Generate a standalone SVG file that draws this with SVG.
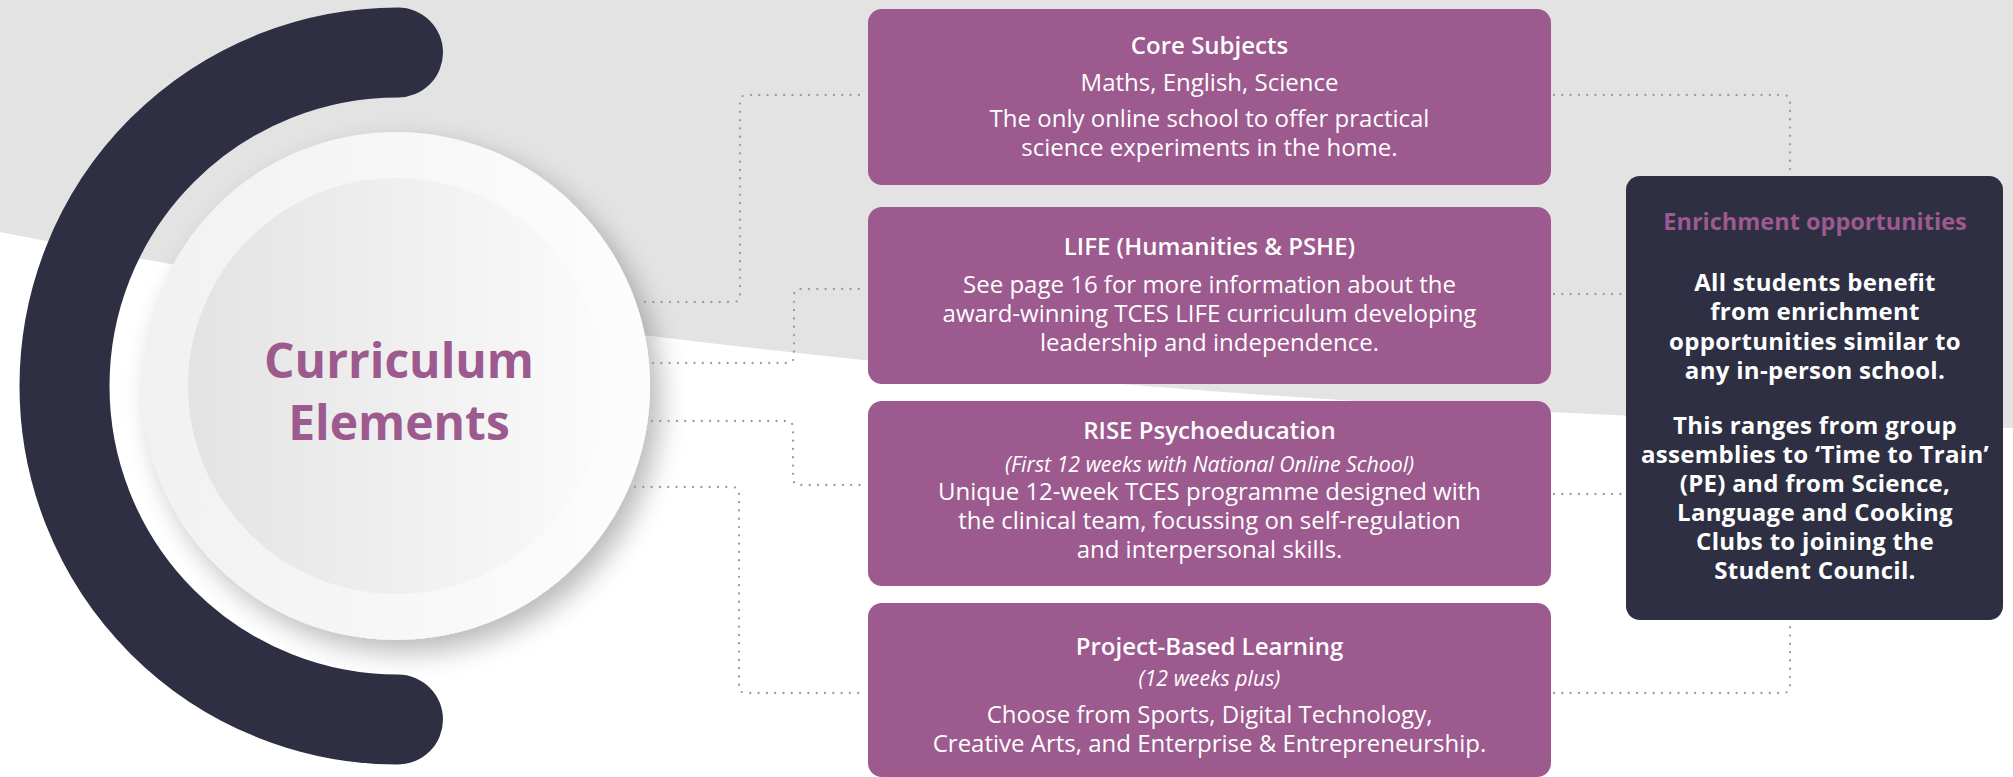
<svg xmlns="http://www.w3.org/2000/svg" width="2013" height="777" viewBox="0 0 2013 777">
  <defs>
    <linearGradient id="outerGrad" x1="0" y1="0" x2="1" y2="0">
      <stop offset="0" stop-color="#f1f1f1"/>
      <stop offset="1" stop-color="#fdfdfd"/>
    </linearGradient>
    <linearGradient id="innerGrad" x1="0" y1="0" x2="1" y2="0">
      <stop offset="0" stop-color="#e3e3e3"/>
      <stop offset="1" stop-color="#fbfbfb"/>
    </linearGradient>
    <filter id="shadow" x="-30%" y="-30%" width="160%" height="160%">
      <feGaussianBlur in="SourceAlpha" stdDeviation="14"/>
      <feOffset dx="10" dy="12" result="b"/>
      <feComponentTransfer><feFuncA type="linear" slope="0.28"/></feComponentTransfer>
      <feMerge><feMergeNode/><feMergeNode in="SourceGraphic"/></feMerge>
    </filter>
    <style>
      .box { fill: #9c5a8e; }
      .dark { fill: #2e2f42; }
      .t { font-family: "Open Sans", "Liberation Sans", sans-serif; fill: #ffffff; text-anchor: middle; }
      .title { font-size: 24px; font-weight: 600; }
      .body { font-size: 24px; font-weight: 400; }
      .it { font-size: 21.3px; font-style: italic; font-weight: 400; }
      .dtitle { font-family: "Open Sans", "Liberation Sans", sans-serif; font-size: 23.5px; font-weight: 700; fill: #9c5a8e; text-anchor: middle; }
      .dbody { font-family: "Open Sans", "Liberation Sans", sans-serif; font-size: 24px; font-weight: 700; letter-spacing: 0.3px; fill: #ffffff; text-anchor: middle; }
      .big { font-family: "Open Sans", "Liberation Sans", sans-serif; font-size: 48px; font-weight: 700; fill: #9c5a8e; text-anchor: middle; }
      .conn { fill: none; stroke: #9a9a9a; stroke-width: 2.3; stroke-dasharray: 0 8.3; stroke-linecap: round; }
    </style>
  </defs>

  <!-- background -->
  <rect x="0" y="0" width="2013" height="777" fill="#ffffff"/>
  <path d="M0,0 H2013 V428 Q867,405 0,232 Z" fill="#e3e3e3"/>

  <!-- dark arc -->
  <g id="arc">
    <path d="M398,52.5 A333.5,333.5 0 0 0 398,719.5" fill="none" stroke="#2e2f42" stroke-width="90" stroke-linecap="round"/>
  </g>

  <!-- central circle node -->
  <g id="curriculum-elements">
    <circle cx="396" cy="386" r="254" fill="url(#outerGrad)" filter="url(#shadow)"/>
    <circle cx="396" cy="386" r="208" fill="url(#innerGrad)"/>
    <text class="big" x="399" y="378">Curriculum</text>
    <text class="big" x="399" y="440">Elements</text>
  </g>

  <!-- connectors -->
  <g id="connectors">
    <path class="conn" d="M645,302 H733 Q740,302 740,295 V102 Q740,95 747,95 H866"/>
    <path class="conn" d="M653,363 H787 Q794,363 794,356 V296 Q794,289 801,289 H866"/>
    <path class="conn" d="M652,421 H786 Q793,421 793,428 V478 Q793,485 800,485 H866"/>
    <path class="conn" d="M635,487 H732 Q739,487 739,494 V686 Q739,693 746,693 H866"/>
    <path class="conn" d="M1554,95 H1783 Q1790,95 1790,102 V174"/>
    <path class="conn" d="M1554,294 H1624"/>
    <path class="conn" d="M1554,494 H1624"/>
    <path class="conn" d="M1554,693 H1783 Q1790,693 1790,686 V622"/>
  </g>

  <!-- boxes -->
  <g id="core-subjects">
    <rect class="box" x="868" y="9" width="683" height="176" rx="14"/>
    <text class="t title" x="1209.5" y="54">Core Subjects</text>
    <text class="t body" x="1209.5" y="91">Maths, English, Science</text>
    <text class="t body" x="1209.5" y="127">The only online school to offer practical</text>
    <text class="t body" x="1209.5" y="156">science experiments in the home.</text>
  </g>

  <g id="life">
    <rect class="box" x="868" y="207" width="683" height="177" rx="14"/>
    <text class="t title" x="1209.5" y="255">LIFE (Humanities &amp; PSHE)</text>
    <text class="t body" x="1209.5" y="292.5">See page 16 for more information about the</text>
    <text class="t body" x="1209.5" y="321.5">award-winning TCES LIFE curriculum developing</text>
    <text class="t body" x="1209.5" y="350.5">leadership and independence.</text>
  </g>

  <g id="rise">
    <rect class="box" x="868" y="401" width="683" height="185" rx="14"/>
    <text class="t title" x="1209.5" y="439">RISE Psychoeducation</text>
    <text class="t it" x="1209.5" y="471.5">(First 12 weeks with National Online School)</text>
    <text class="t body" x="1209.5" y="499.5">Unique 12-week TCES programme designed with</text>
    <text class="t body" x="1209.5" y="528.5">the clinical team, focussing on self-regulation</text>
    <text class="t body" x="1209.5" y="557.5">and interpersonal skills.</text>
  </g>

  <g id="project-based-learning">
    <rect class="box" x="868" y="603" width="683" height="174" rx="14"/>
    <text class="t title" x="1209.5" y="655">Project-Based Learning</text>
    <text class="t it" x="1209.5" y="686">(12 weeks plus)</text>
    <text class="t body" x="1209.5" y="723">Choose from Sports, Digital Technology,</text>
    <text class="t body" x="1209.5" y="752">Creative Arts, and Enterprise &amp; Entrepreneurship.</text>
  </g>

  <g id="enrichment">
    <rect class="dark" x="1626" y="176" width="377" height="444" rx="14"/>
    <text class="dtitle" x="1815" y="230">Enrichment opportunities</text>
    <text class="dbody" x="1815" y="291">All students benefit</text>
    <text class="dbody" x="1815" y="320">from enrichment</text>
    <text class="dbody" x="1815" y="349.5">opportunities similar to</text>
    <text class="dbody" x="1815" y="378.5">any in-person school.</text>
    <text class="dbody" x="1815" y="434">This ranges from group</text>
    <text class="dbody" x="1815" y="463">assemblies to ‘Time to Train’</text>
    <text class="dbody" x="1815" y="492">(PE) and from Science,</text>
    <text class="dbody" x="1815" y="521">Language and Cooking</text>
    <text class="dbody" x="1815" y="550">Clubs to joining the</text>
    <text class="dbody" x="1815" y="579">Student Council.</text>
  </g>
</svg>
